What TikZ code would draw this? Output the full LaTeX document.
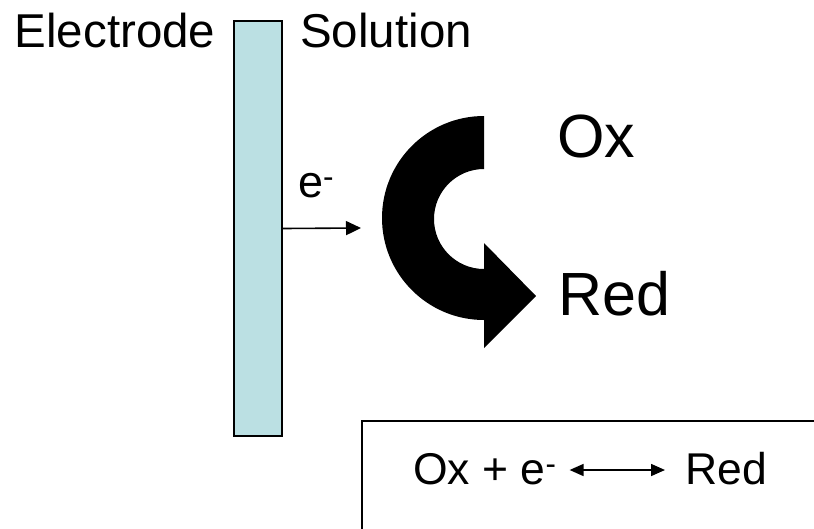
\documentclass[tikz,border=0pt]{standalone}
\usepackage{fontspec}
\setmainfont{Liberation Sans}
\usetikzlibrary{arrows.meta,calc}
\definecolor{electrodefill}{RGB}{187,224,227}
\tikzset{
  lbl/.style={inner sep=0pt, anchor=base west},
  thin arrow/.style={line width=1.6pt, -{Triangle[length=15pt,width=14pt]}},
  eq arrow/.style={line width=1.6pt, {Triangle[length=14pt,width=12pt]}-{Triangle[length=14pt,width=12pt]}},
}
\begin{document}
\begin{tikzpicture}[x=1pt,y=-1pt]
  \useasboundingbox (0,0) rectangle (814,528);

  % electrode plate
  \node[draw, line width=2pt, fill=electrodefill, minimum width=48pt,
        minimum height=415pt, inner sep=0pt] (electrode) at (258,228.5) {};

  % headings
  \node[lbl, font=\fontsize{47.5}{52}\selectfont] (electrodeLabel) at (14.5,47) {Electrode};
  \node[lbl, font=\fontsize{47.5}{52}\selectfont] (solutionLabel) at (300,47) {Solution};

  % electron transfer
  \coordinate (eTip) at (361,228);
  \draw[thin arrow] (electrode.east) -- (eTip);
  \node[lbl, font=\fontsize{45}{48}\selectfont] (eLabel) at (298,197) {e\textsuperscript{-}};

  % curved reduction arrow (centre 484,218)
  \fill[black] (484,116) arc[start angle=90, end angle=270, radius=102pt]
    -- (484,348) -- (536,296) -- (484,243) -- (484,269)
    arc[start angle=270, end angle=90, radius=50pt] -- cycle;

  \node[lbl, font=\fontsize{61}{66}\selectfont] (oxLabel) at (557,157) {Ox};
  \node[lbl, font=\fontsize{61}{66}\selectfont] (redLabel) at (558,315) {Red};

  % half-reaction box
  \begin{scope}
    \clip (0,0) rectangle (814,528);
    \draw[line width=2pt] (362,421) rectangle (840,560);
  \end{scope}
  \node[lbl, font=\fontsize{44.5}{48}\selectfont] (lhs) at (413,484) {Ox + e\textsuperscript{-}};
  \node[lbl, font=\fontsize{44.5}{48}\selectfont] (rhs) at (685,484) {Red};
  \draw[eq arrow] ($(lhs.base east)+(13,-14)$) -- ($(rhs.base west)+(-20,-14)$);
\end{tikzpicture}
\end{document}
